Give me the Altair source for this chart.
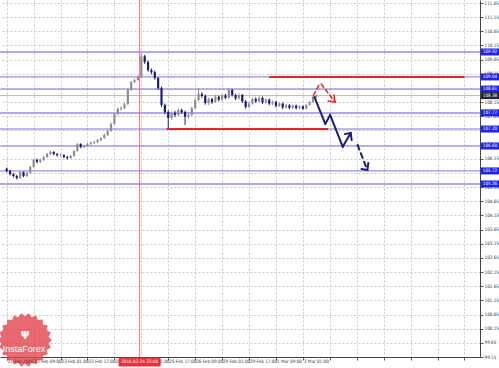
import altair as alt
import pandas as pd
import numpy as np

# ---------------- data (2-hour candles, x = hours from chart start) ----------------
first_open = 105.80
close = [105.72, 105.61, 105.54, 105.47, 105.68, 105.54, 105.65, 105.86, 106.11, 106.04,
         106.11, 106.21, 106.32, 106.39, 106.32, 106.28, 106.28, 106.21, 106.18, 106.25,
         106.42, 106.67, 106.57, 106.60, 106.67, 106.71, 106.74, 106.81, 106.88, 106.99,
         107.13, 107.38, 107.73, 107.91, 107.94, 108.08, 108.58, 108.86, 108.93, 109.04,
         109.77, 109.57, 109.28, 109.21, 109.00, 108.65, 108.05, 107.80, 107.59, 107.77,
         107.70, 107.87, 107.80, 107.63, 107.70, 107.94, 108.22, 108.44, 108.37, 108.12,
         108.26, 108.15, 108.34, 108.24, 108.38, 108.30, 108.58, 108.40, 108.28, 108.40,
         108.18, 107.98, 108.10, 108.26, 108.18, 108.30, 108.14, 108.24, 108.10, 108.16,
         108.02, 108.10, 107.96, 108.04, 107.95, 108.03, 107.94, 108.00, 107.92, 108.05,
         108.15, 108.33, 108.38]
high = [105.84, 105.76, 105.64, 105.58, 105.72, 105.70, 105.69, 105.90, 106.15, 106.16,
        106.15, 106.25, 106.36, 106.44, 106.42, 106.35, 106.33, 106.31, 106.25, 106.29,
        106.46, 106.71, 106.70, 106.65, 106.71, 106.76, 106.79, 106.85, 106.92, 107.04,
        107.18, 107.43, 107.78, 107.96, 108.00, 108.14, 108.63, 108.90, 108.98, 109.10,
        109.88, 109.82, 109.62, 109.34, 109.26, 109.04, 108.70, 108.10, 107.86, 107.82,
        107.84, 107.93, 107.92, 107.85, 107.76, 107.99, 108.28, 108.65, 108.50, 108.42,
        108.31, 108.30, 108.40, 108.38, 108.43, 108.44, 108.65, 108.62, 108.45, 108.46,
        108.44, 108.22, 108.15, 108.31, 108.32, 108.35, 108.34, 108.29, 108.28, 108.21,
        108.20, 108.14, 108.13, 108.08, 108.08, 108.07, 108.06, 108.04, 108.03, 108.09,
        108.20, 108.39, 108.42]
low = [105.66, 105.56, 105.49, 105.42, 105.45, 105.50, 105.51, 105.62, 105.83, 105.99,
       106.00, 106.07, 106.18, 106.28, 106.27, 106.22, 106.23, 106.17, 106.12, 106.14,
       106.22, 106.40, 106.52, 106.53, 106.56, 106.63, 106.67, 106.70, 106.77, 106.85,
       106.95, 107.10, 107.35, 107.68, 107.84, 107.90, 108.04, 108.54, 108.82, 108.90,
       109.00, 109.50, 109.22, 109.14, 108.94, 108.58, 107.98, 107.72, 107.24, 107.52,
       107.62, 107.65, 107.74, 107.34, 107.56, 107.66, 107.90, 108.18, 108.30, 108.06,
       108.05, 108.09, 108.12, 108.18, 108.20, 108.25, 108.27, 108.35, 108.22, 108.24,
       108.12, 107.92, 107.94, 108.06, 108.12, 108.14, 108.08, 108.10, 108.04, 108.05,
       107.96, 107.98, 107.90, 107.92, 107.90, 107.91, 107.89, 107.90, 107.88, 107.89,
       108.02, 108.12, 108.28]

y_ticks = [99.15, 99.65, 100.15, 100.65, 101.15, 101.65, 102.15, 102.65, 103.15, 103.65,
           104.15, 104.65, 105.15, 105.65, 106.15, 106.65, 107.15, 107.65, 108.15, 108.65,
           109.15, 109.65, 110.15, 110.65, 111.15, 111.65]
x_tick_idx = [1, 17, 33, 49, 65, 81, 97, 113, 129, 145, 161, 177, 193, 209, 225, 241, 257, 273]
x_labels = ["21 Feb 2016", "22 Feb 09:00", "23 Feb 01:00", "23 Feb 17:00", "24 Feb 09:00",
            "25 Feb 01:00", "25 Feb 17:00", "26 Feb 09:00", "29 Feb 01:00", "29 Feb 17:00",
            "1 Mar 09:00", "2 Mar 01:00"]

level_vals = [109.92, 109.04, 108.61, 107.77, 107.20, 106.60, 105.72, 105.26]
level_kind = ["thick", "thin", "thin", "thick", "thin", "thin", "thin", "thick"]
current_price = 108.38

red_x = [157, 96]
red_x2 = [273, 192]
red_y = [109.04, 107.20]

vline_idx = 80
vline_label = "2016.02.24 23:00"

# forecast arrows (x in hours, y in price)
arr_x = [183.3, 187.9, 183.9, 190.3, 193.2, 200.7, 209.5]
arr_y = [108.40, 108.79, 108.33, 107.38, 107.70, 106.57, 106.64]
arr_x2 = [187.3, 196.1, 190.3, 193.2, 200.7, 205.4, 215.3]
arr_y2 = [108.83, 108.15, 107.38, 107.70, 106.57, 107.06, 105.75]
arr_grp = ["red", "red", "navy", "navy", "navy", "navy", "navy_dash"]
head_x = [196.1, 196.1, 205.4, 205.4, 215.3, 215.3]
head_y = [108.15, 108.15, 107.06, 107.06, 105.75, 105.75]
head_x2 = [192.0, 195.5, 201.9, 206.0, 211.8, 215.9]
head_y2 = [108.19, 108.40, 107.02, 106.81, 105.79, 106.00]
head_grp = ["red", "red", "navy", "navy", "navy_dash", "navy_dash"]

# ---------------- frames ----------------
opens = [first_open] + close[:-1]
candles = pd.DataFrame({
    "t": [2 * i + 1 for i in range(len(close))],
    "open": opens, "close": close, "high": high, "low": low,
})
candles["dir"] = np.where(candles["close"] >= candles["open"], "up", "down")

W, H = 480, 357
XD = [0, 279.27]
YD = [99.15, 111.756]
xs = alt.Scale(domain=XD, nice=False, zero=False)
ys = alt.Scale(domain=YD, nice=False, zero=False)

FONT = "Liberation Sans Narrow, DejaVu Sans Condensed, Liberation Sans"

X_AXIS = alt.Axis(values=x_tick_idx, labels=False, title=None, tickSize=3, tickColor="#555",
                  domainColor="#444", grid=True, gridColor="#c8c8c8", gridDash=[2, 2])
Y_AXIS = alt.Axis(orient="right", values=y_ticks, format=".2f", title=None, labelFontSize=4.6,
                  labelColor="#333", labelFont=FONT, labelPadding=1, tickSize=3,
                  tickColor="#555", domainColor="#444", grid=True, gridColor="#c8c8c8",
                  gridDash=[2, 2])


def X(f):
    return alt.X(f, type="quantitative", scale=xs, axis=X_AXIS)


def Y(f):
    return alt.Y(f, type="quantitative", scale=ys, axis=Y_AXIS)


grid_df = pd.DataFrame({"t": [0], "p": [105.0]})
base = alt.Chart(grid_df).mark_point(opacity=0).encode(x=X("t"), y=Y("p"))

# InstaForex seal
teeth = 22
pts = []
for k in range(teeth * 2):
    r = 1.0 if k % 2 == 0 else 0.88
    a = np.pi * k / teeth
    pts.append(f"{r*np.cos(a):.3f},{r*np.sin(a):.3f}")
gear = "M" + "L".join(pts) + "Z"
one = pd.DataFrame({"a": [0]})
seal = alt.Chart(one).mark_point(shape=gear, filled=True, size=2916, color="#e4434c",
                                 opacity=0.8, strokeWidth=0).encode(
    x=alt.value(25), y=alt.value(340))
seal_txt = alt.Chart(one).mark_text(text="InstaForex", color="white", fontSize=9,
                                    font="Liberation Sans").encode(x=alt.value(24), y=alt.value(349))
seal_icon = alt.Chart(one).mark_text(text="ψ", color="white", fontSize=11,
                                     font="DejaVu Sans", fontWeight="bold").encode(
    x=alt.value(25), y=alt.value(334))

# level lines
lv = pd.DataFrame({"p": level_vals, "kind": level_kind})
thick = alt.Chart(lv[lv.kind == "thick"]).mark_rule(color="#a9a9f5", strokeWidth=2).encode(y=Y("p"))
thin = alt.Chart(lv[lv.kind == "thin"]).mark_rule(color="#7474ea", strokeWidth=1).encode(y=Y("p"))
cur = alt.Chart(pd.DataFrame({"p": [current_price]})).mark_rule(
    color="#b8b8b8", strokeWidth=1).encode(y=Y("p"))

red_df = pd.DataFrame({"x": red_x, "x2": red_x2, "p": red_y})
red_lines = alt.Chart(red_df).mark_rule(color="#e8262a", strokeWidth=2).encode(
    x=X("x"), x2="x2", y=Y("p"))

vline = alt.Chart(pd.DataFrame({"t": [vline_idx]})).mark_rule(
    color="#ff6a6a", strokeWidth=1).encode(x=X("t"))

# candles
cscale = alt.Scale(domain=["up", "down"], range=["#8e8e8e", "#1c1c78"])
wick = alt.Chart(candles).mark_rule(strokeWidth=1).encode(
    x=X("t"), y=Y("low"), y2="high", color=alt.Color("dir:N", scale=cscale, legend=None))
body = alt.Chart(candles).mark_bar(size=2.2).encode(
    x=X("t"), y=Y("open"), y2="close", color=alt.Color("dir:N", scale=cscale, legend=None))

# arrows
arr = pd.DataFrame({"x": arr_x, "y": arr_y, "x2": arr_x2, "y2": arr_y2, "g": arr_grp})
heads = pd.DataFrame({"x": head_x, "y": head_y, "x2": head_x2, "y2": head_y2, "g": head_grp})


def seg(df, color, dash=None, width=2):
    kw = dict(color=color, strokeWidth=width, strokeCap="round")
    if dash:
        kw["strokeDash"] = dash
    return alt.Chart(df).mark_rule(**kw).encode(x=X("x"), y=Y("y"), x2="x2", y2="y2")


arr_red = seg(arr[arr.g == "red"], "#ee2222", dash=[4, 3], width=1.5)
arr_navy = seg(arr[arr.g == "navy"], "#1b1f6e", width=2)
arr_navyd = seg(arr[arr.g == "navy_dash"], "#1b1f6e", dash=[5, 4], width=2)
hd_red = seg(heads[heads.g == "red"], "#ee2222", width=1.5)
hd_navy = seg(heads[heads.g.isin(["navy", "navy_dash"])], "#1b1f6e", width=2)

# right-side price boxes
box_path = "M-1,-0.39L1,-0.39L1,0.39L-1,0.39Z"
lab_df = pd.DataFrame({"p": level_vals, "s": [f"{v:.2f}" for v in level_vals]})
boxes = alt.Chart(lab_df).mark_point(shape=box_path, filled=True, size=324, color="#2323e2",
                                     opacity=1, strokeWidth=0).encode(x=alt.value(490), y=Y("p"))
box_txt = alt.Chart(lab_df).mark_text(color="white", fontSize=4.6, font=FONT).encode(
    x=alt.value(490), y=Y("p"), text="s:N")
cur_df = pd.DataFrame({"p": [current_price], "s": [f"{current_price:.2f}"]})
cur_box = alt.Chart(cur_df).mark_point(shape=box_path, filled=True, size=324, color="#252535",
                                       opacity=1, strokeWidth=0).encode(x=alt.value(490), y=Y("p"))
cur_txt = alt.Chart(cur_df).mark_text(color="white", fontSize=4.6, font=FONT).encode(
    x=alt.value(490), y=Y("p"), text="s:N")

# x labels
xl_df = pd.DataFrame({"t": x_tick_idx[:len(x_labels)], "s": x_labels})
x_txt = alt.Chart(xl_df).mark_text(align="left", baseline="middle", fontSize=4.6, dx=1,
                                   color="#333", font=FONT).encode(
    x=X("t"), y=alt.value(362), text="s:N")
vl_df = pd.DataFrame({"t": [vline_idx], "s": [vline_label]})
vbox = alt.Chart(vl_df).mark_point(shape="M-1,-0.22L1,-0.22L1,0.22L-1,0.22Z", filled=True,
                                   size=1764, color="#e8303a", opacity=1, strokeWidth=0).encode(
    x=X("t"), y=alt.value(362))
vbox_txt = alt.Chart(vl_df).mark_text(color="white", fontSize=4.6, font=FONT).encode(
    x=X("t"), y=alt.value(362), text="s:N")

chart = alt.layer(
    base, seal, seal_txt, seal_icon, thick, thin, cur, vline, red_lines, wick, body,
    arr_red, arr_navy, arr_navyd, hd_red, hd_navy,
    boxes, box_txt, cur_box, cur_txt, x_txt, vbox, vbox_txt,
).properties(
    width=W, height=H,
    autosize=alt.AutoSizeParams(type="none"),
    padding={"left": 0, "top": 0, "right": 19, "bottom": 11},
    background="white",
).configure_view(strokeWidth=0)

chart.save("out.html", embed_options={"renderer": "svg", "actions": False})
